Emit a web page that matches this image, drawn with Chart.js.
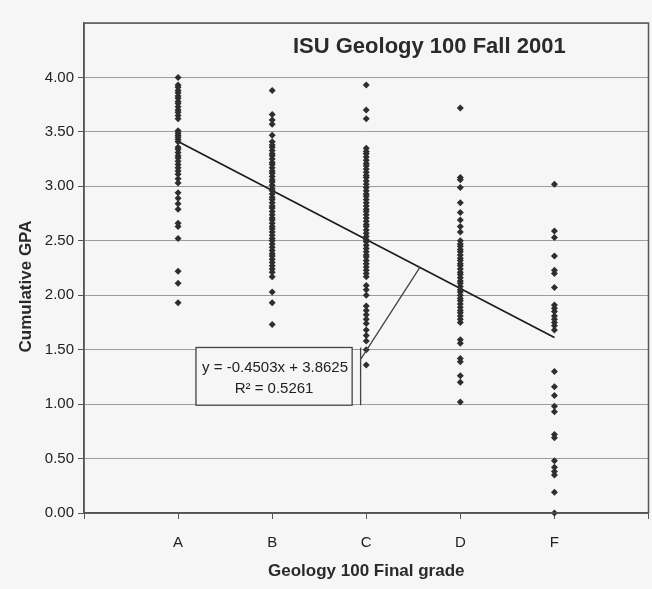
<!DOCTYPE html>
<html><head><meta charset="utf-8">
<script src="https://cdn.jsdelivr.net/npm/chart.js@4"></script>
<style>html,body{margin:0;padding:0;background:#f6f6f6;overflow:hidden;}</style>
</head><body>
<canvas id="c" width="652" height="589"></canvas>
<script>
const categories = ['A', 'B', 'C', 'D', 'F'];
const gpaA = [4.00, 3.93, 3.91, 3.88, 3.86, 3.83, 3.81, 3.78, 3.76, 3.73, 3.70, 3.68, 3.65, 3.62, 3.51, 3.49, 3.47, 3.45, 3.43, 3.41, 3.36, 3.34, 3.31, 3.28, 3.26, 3.23, 3.20, 3.17, 3.14, 3.11, 3.07, 3.03, 2.94, 2.89, 2.84, 2.79, 2.66, 2.63, 2.52, 2.22, 2.11, 1.93];
const gpaB = [3.88, 3.66, 3.61, 3.57, 3.47, 3.41, 3.38, 3.36, 3.33, 3.30, 3.28, 3.25, 3.22, 3.20, 3.17, 3.14, 3.12, 3.09, 3.06, 3.04, 3.01, 2.98, 2.96, 2.93, 2.90, 2.88, 2.85, 2.82, 2.80, 2.77, 2.74, 2.71, 2.69, 2.66, 2.63, 2.61, 2.58, 2.55, 2.52, 2.50, 2.47, 2.44, 2.41, 2.38, 2.36, 2.33, 2.30, 2.27, 2.24, 2.21, 2.17, 2.03, 1.93, 1.73];
const gpaC = [3.93, 3.70, 3.62, 3.35, 3.32, 3.30, 3.27, 3.24, 3.21, 3.19, 3.16, 3.13, 3.10, 3.08, 3.05, 3.02, 2.99, 2.96, 2.93, 2.91, 2.88, 2.85, 2.82, 2.79, 2.77, 2.74, 2.71, 2.68, 2.65, 2.63, 2.60, 2.57, 2.54, 2.51, 2.49, 2.46, 2.43, 2.40, 2.37, 2.35, 2.32, 2.29, 2.26, 2.23, 2.20, 2.17, 2.09, 2.05, 2.00, 1.90, 1.86, 1.82, 1.78, 1.74, 1.68, 1.63, 1.58, 1.50, 1.36];
const gpaD = [3.72, 3.08, 3.06, 2.99, 2.85, 2.76, 2.69, 2.63, 2.58, 2.50, 2.47, 2.45, 2.42, 2.40, 2.37, 2.34, 2.32, 2.29, 2.27, 2.24, 2.21, 2.19, 2.16, 2.13, 2.11, 2.08, 2.05, 2.03, 2.00, 1.97, 1.95, 1.92, 1.89, 1.86, 1.84, 1.81, 1.78, 1.75, 1.59, 1.56, 1.42, 1.39, 1.26, 1.20, 1.02];
const gpaF = [3.02, 2.59, 2.53, 2.36, 2.23, 2.20, 2.07, 1.91, 1.88, 1.85, 1.81, 1.78, 1.75, 1.72, 1.68, 1.30, 1.16, 1.08, 0.98, 0.93, 0.72, 0.69, 0.48, 0.42, 0.38, 0.35, 0.19, 0.00];
const yTickValues = [0.00, 0.50, 1.00, 1.50, 2.00, 2.50, 3.00, 3.50, 4.00];
const trendSlope = -0.4503;
const trendIntercept = 3.8625;
const trendR2 = '0.5261';
const titleText = 'ISU Geology 100 Fall 2001';
const xTitle = 'Geology 100 Final grade';
const yTitle = 'Cumulative GPA';

const series = [gpaA, gpaB, gpaC, gpaD, gpaF];
const pointColor = '#2e2e2e';
const datasets = series.map((vals, i) => ({
  type: 'scatter',
  label: categories[i],
  data: vals.map(v => ({ x: i + 1, y: v })),
  pointStyle: 'rectRot',
  pointRadius: 3.5,
  pointHoverRadius: 3.5,
  backgroundColor: pointColor,
  borderColor: pointColor,
  borderWidth: 0,
  clip: false
}));
datasets.push({
  type: 'line',
  label: 'trend',
  data: [1, 5].map(x => ({ x: x, y: trendSlope * x + trendIntercept })),
  borderColor: '#1a1a1a',
  borderWidth: 1.6,
  pointRadius: 0,
  fill: false
});

const FONT_SANS = '"Liberation Sans", Arial, sans-serif';

const decor = {
  id: 'decor',
  beforeDraw(chart) {
    const ctx = chart.ctx;
    ctx.save();
    ctx.fillStyle = '#f6f6f6';
    ctx.fillRect(0, 0, chart.width, chart.height);
    ctx.restore();
  },
  afterDatasetsDraw(chart) {
    const ctx = chart.ctx, a = chart.chartArea;
    const xs = chart.scales.x, ys = chart.scales.y;
    ctx.save();
    // plot border
    ctx.strokeStyle = '#555';
    ctx.lineWidth = 1.5;
    ctx.strokeRect(a.left, a.top, a.right - a.left, a.bottom - a.top);
    // title
    ctx.fillStyle = '#2a2a2a';
    ctx.font = 'bold 22px ' + FONT_SANS;
    ctx.textAlign = 'center';
    ctx.textBaseline = 'middle';
    ctx.fillText(titleText, xs.getPixelForValue(3.67), ys.getPixelForValue(4.28));
    // y axis title
    ctx.save();
    ctx.translate(26, ys.getPixelForValue(2.08));
    ctx.rotate(-Math.PI / 2);
    ctx.font = 'bold 17px ' + FONT_SANS;
    ctx.fillText(yTitle, 0, 0);
    ctx.restore();
    // equation box
    const bl = xs.getPixelForValue(1.19), br = xs.getPixelForValue(2.85);
    const bt = ys.getPixelForValue(1.52), bb = ys.getPixelForValue(0.99);
    ctx.fillStyle = '#f6f6f6';
    ctx.fillRect(bl, bt, br - bl, bb - bt);
    ctx.strokeStyle = '#444';
    ctx.lineWidth = 1.3;
    ctx.strokeRect(bl, bt, br - bl, bb - bt);
    // leader line
    const lx = xs.getPixelForValue(2.94);
    ctx.beginPath();
    ctx.moveTo(lx, bt);
    ctx.lineTo(lx, bb);
    ctx.moveTo(lx, ys.getPixelForValue(1.41));
    const ex = 3.57;
    ctx.lineTo(xs.getPixelForValue(ex), ys.getPixelForValue(trendSlope * ex + trendIntercept));
    ctx.stroke();
    ctx.fillStyle = '#222';
    ctx.font = '15px ' + FONT_SANS;
    const cx = (bl + br) / 2;
    const sign = trendIntercept >= 0 ? '+' : '-';
    ctx.fillText('y = ' + trendSlope.toFixed(4) + 'x ' + sign + ' ' + Math.abs(trendIntercept).toFixed(4), cx + 1, bt + 20);
    ctx.fillText('R\u00B2 = ' + trendR2, cx, bt + 41);
    ctx.restore();
  }
};

new Chart(document.getElementById('c'), {
  data: { datasets },
  options: {
    responsive: false,
    animation: false,
    devicePixelRatio: 1,
    layout: { padding: { top: 23, right: 3, left: 0, bottom: 0 } },
    plugins: { legend: { display: false }, tooltip: { enabled: false }, title: { display: false } },
    scales: {
      x: {
        type: 'linear',
        min: 0, max: 6,
        afterFit: s => { s.height = 76; s.paddingLeft = 0; s.paddingRight = 0; },
        afterBuildTicks: s => { s.ticks = [0, 1, 2, 3, 4, 5, 6].map(v => ({ value: v })); },
        ticks: {
          autoSkip: false,
          maxRotation: 0,
          padding: 15,
          color: '#222',
          font: { family: FONT_SANS, size: 15 },
          callback: v => (v >= 1 && v <= 5) ? categories[v - 1] : ''
        },
        grid: { drawOnChartArea: false, drawTicks: true, tickLength: 6, color: '#555' },
        border: { display: true, color: '#555', width: 1.5 },
        title: {
          display: true, text: xTitle, color: '#2a2a2a',
          font: { family: FONT_SANS, size: 17, weight: 'bold' },
          padding: { top: 0, bottom: 7 }
        }
      },
      y: {
        type: 'linear',
        min: 0, max: 4.5,
        afterFit: s => { s.width = 84; },
        afterBuildTicks: s => { s.ticks = yTickValues.concat([4.5]).map(v => ({ value: v })); },
        ticks: {
          padding: 4,
          color: '#222',
          font: { family: FONT_SANS, size: 15 },
          callback: v => yTickValues.includes(v) ? v.toFixed(2) : ''
        },
        grid: { color: '#9c9c9c', lineWidth: 1, tickLength: 6, tickColor: ctx => ctx.tick && ctx.tick.value > 4 ? 'rgba(0,0,0,0)' : '#555' },
        border: { display: true, color: '#555', width: 1.5 },
        title: { display: false }
      }
    }
  },
  plugins: [decor]
});
</script>
</body></html>
